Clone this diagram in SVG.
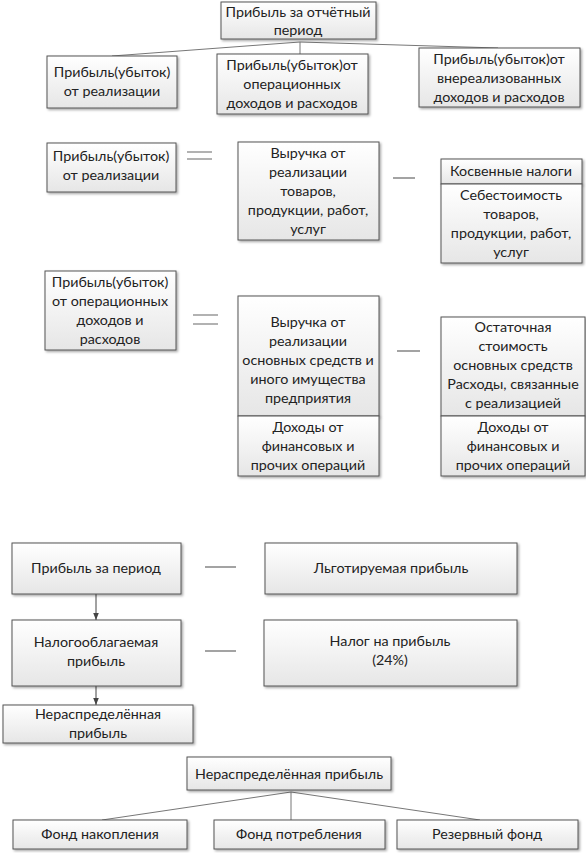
<svg xmlns="http://www.w3.org/2000/svg" width="586" height="853" viewBox="0 0 586 853">
<defs>
<linearGradient id="g" x1="0" y1="0" x2="0" y2="1">
<stop offset="0" stop-color="#ffffff"/>
<stop offset="1" stop-color="#e6e6e6"/>
</linearGradient>
<marker id="arr" viewBox="0 0 10 10" refX="10" refY="5" markerWidth="7" markerHeight="7" orient="auto">
<path d="M0,1 L10,5 L0,9 z" fill="#444"/>
</marker>
<filter id="sh" x="-10%" y="-10%" width="130%" height="140%">
<feDropShadow dx="1.5" dy="1.5" stdDeviation="0.8" flood-color="#000" flood-opacity="0.35"/>
</filter>
</defs>
<style>
.b{fill:url(#g);stroke:#555;stroke-width:1;filter:url(#sh)}
text{font-family:Lato,"Open Sans","Liberation Sans",sans-serif;font-size:14.3px;fill:#222;text-anchor:middle}
.c{stroke:#777;stroke-width:1;fill:none}
.s{stroke:#666;stroke-width:1.2;fill:none}
</style>
<rect width="586" height="853" fill="#fff"/>
<g id="connectors">
<path class="c" d="M300,42 L112,56 M300,42 L300,54 M300,42 L498,48"/>
<path class="s" d="M187,152 H212 M187,159 H212"/>
<path class="s" d="M393,178 H415"/>
<path class="s" d="M193,315 H218 M193,324 H218"/>
<path class="s" d="M397,351 H420"/>
<path class="s" d="M205,567 H236"/>
<path class="s" d="M205,651 H236"/>
<path class="c" d="M96,594 V620" marker-end="url(#arr)" style="stroke:#444"/>
<path class="c" d="M96,686 V705" marker-end="url(#arr)" style="stroke:#444"/>
<path class="c" d="M291,792 L102,820 M291,792 L291,820 M291,792 L480,820"/>
</g>
<g id="n1"><rect class="b" x="221" y="2" width="155" height="37"/><text x="298" y="17">Прибыль за отчётный</text><text x="298" y="35">период</text></g>
<g id="n2"><rect class="b" x="47" y="56" width="130" height="52"/><text x="112" y="77">Прибыль(убыток)</text><text x="112" y="96">от реализации</text></g>
<g id="n3"><rect class="b" x="217" y="54" width="151" height="60"/><text x="292" y="70">Прибыль(убыток)от</text><text x="292" y="89">операционных</text><text x="292" y="108">доходов и расходов</text></g>
<g id="n4"><rect class="b" x="419" y="48" width="161" height="59"/><text x="499" y="64">Прибыль(убыток)от</text><text x="499" y="83">внереализованных</text><text x="499" y="102">доходов и расходов</text></g>

<g id="n5"><rect class="b" x="47" y="143" width="129" height="49"/><text x="111" y="161">Прибыль(убыток)</text><text x="111" y="180">от реализации</text></g>
<g id="n6"><rect class="b" x="238" y="142" width="141" height="98"/><text x="308" y="158">Выручка от</text><text x="308" y="177">реализации</text><text x="308" y="196">товаров,</text><text x="308" y="215">продукции, работ,</text><text x="308" y="234">услуг</text></g>
<g id="n7"><rect class="b" x="441" y="159" width="141" height="25"/><text x="511" y="176">Косвенные налоги</text></g>
<g id="n8"><rect class="b" x="441" y="184" width="141" height="79"/><text x="511" y="200">Себестоимость</text><text x="511" y="219">товаров,</text><text x="511" y="238">продукции, работ,</text><text x="511" y="257">услуг</text></g>

<g id="n9"><rect class="b" x="45" y="271" width="131" height="79"/><text x="110" y="287">Прибыль(убыток)</text><text x="110" y="306">от операционных</text><text x="110" y="325">доходов и</text><text x="110" y="344">расходов</text></g>
<g id="n10"><rect class="b" x="238" y="296" width="141" height="120"/><text x="308" y="327">Выручка от</text><text x="308" y="346">реализации</text><text x="308" y="365">основных средств и</text><text x="308" y="384">иного имущества</text><text x="308" y="403">предприятия</text></g>
<g id="n11"><rect class="b" x="238" y="416" width="141" height="60"/><text x="308" y="432">Доходы от</text><text x="308" y="451">финансовых и</text><text x="308" y="470">прочих операций</text></g>
<g id="n12"><rect class="b" x="441" y="317" width="144" height="99"/><text x="513" y="332">Остаточная</text><text x="513" y="351">стоимость</text><text x="513" y="370">основных средств</text><text x="513" y="389">Расходы, связанные</text><text x="513" y="408">с реализацией</text></g>
<g id="n13"><rect class="b" x="441" y="416" width="144" height="60"/><text x="513" y="432">Доходы от</text><text x="513" y="451">финансовых и</text><text x="513" y="470">прочих операций</text></g>

<g id="n14"><rect class="b" x="12" y="543" width="169" height="51"/><text x="96" y="573">Прибыль за период</text></g>
<g id="n15"><rect class="b" x="265" y="543" width="252" height="51"/><text x="391" y="573">Льготируемая прибыль</text></g>
<g id="n16"><rect class="b" x="12" y="620" width="169" height="66"/><text x="96" y="647">Налогооблагаемая</text><text x="96" y="666">прибыль</text></g>
<g id="n17"><rect class="b" x="264" y="620" width="253" height="66"/><text x="390" y="646">Налог на прибыль</text><text x="390" y="665">(24%)</text></g>
<g id="n18"><rect class="b" x="3" y="705" width="190" height="38"/><text x="98" y="719">Нераспределённая</text><text x="98" y="738">прибыль</text></g>

<g id="n19"><rect class="b" x="187" y="757" width="204" height="33"/><text x="289" y="779">Нераспределённая прибыль</text></g>
<g id="n20"><rect class="b" x="13" y="820" width="174" height="29"/><text x="100" y="839">Фонд накопления</text></g>
<g id="n21"><rect class="b" x="214" y="820" width="171" height="29"/><text x="299" y="839">Фонд потребления</text></g>
<g id="n22"><rect class="b" x="397" y="820" width="181" height="29"/><text x="487" y="839">Резервный фонд</text></g>
</svg>
